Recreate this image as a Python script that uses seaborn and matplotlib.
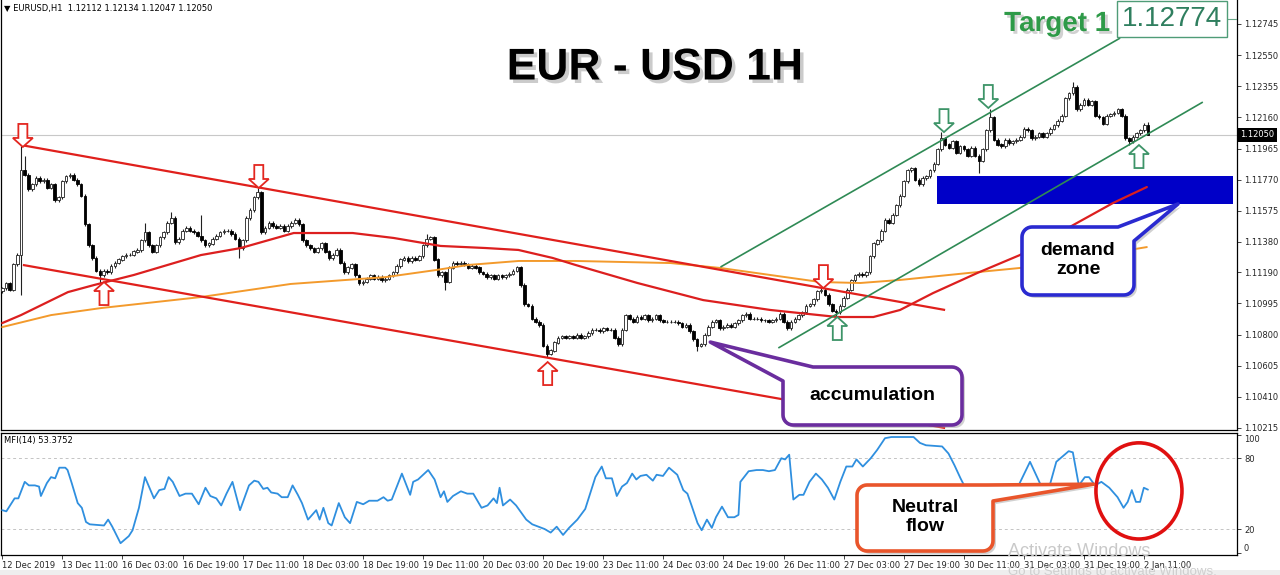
import numpy as np
import matplotlib
matplotlib.use("Agg")
import matplotlib.pyplot as plt
import matplotlib.patheffects as pe
from matplotlib.patches import Polygon, Ellipse, Rectangle
import seaborn as sns

W, H = 1280, 575

# ---------------------------------------------------------------- data
BASE = 1.10000
PIP = 0.0001

time_labels = ["12 Dec 2019", "13 Dec 11:00", "16 Dec 03:00", "16 Dec 19:00",
               "17 Dec 11:00", "18 Dec 03:00", "18 Dec 19:00", "19 Dec 11:00",
               "20 Dec 03:00", "20 Dec 19:00", "23 Dec 11:00", "24 Dec 03:00",
               "24 Dec 19:00", "26 Dec 11:00", "27 Dec 03:00", "27 Dec 19:00",
               "30 Dec 11:00", "31 Dec 03:00", "31 Dec 19:00", "2 Jan 11:00"]
label_step = 16  # one label every 16 hourly bars

# hourly closes in pips above 1.10000
close_pips = [
    109, 112, 108, 124, 130, 183, 180, 171, 174, 178, 176, 177, 172, 174, 164, 166,
    176, 179, 180, 177, 174, 167, 149, 136, 128, 120, 117, 120, 119, 123, 125, 127,
    129, 130, 130, 132, 133, 139, 144, 136, 132, 136, 141, 144, 150, 153, 138, 140,
    145, 147, 145, 144, 142, 139, 136, 137, 140, 142, 144, 145, 145, 143, 140, 134,
    139, 153, 158, 166, 169, 144, 147, 150, 148, 147, 148, 145, 148, 150, 152, 149,
    139, 136, 134, 132, 134, 137, 132, 128, 130, 133, 125, 119, 122, 124, 117, 112,
    113, 115, 117, 115, 116, 114, 115, 117, 119, 123, 127, 128, 126, 128, 127, 129,
    136, 140, 141, 127, 117, 119, 113, 122, 125, 124, 125, 124, 122, 123, 122, 119,
    118, 116, 117, 115, 117, 116, 117, 118, 120, 122, 111, 99, 98, 90, 88, 86,
    73, 68, 70, 75, 78, 79, 78, 79, 78, 80, 78, 79, 81, 83, 83, 82,
    84, 83, 83, 78, 74, 83, 92, 90, 88, 91, 90, 92, 89, 90, 92, 89,
    88, 88, 88, 88, 87, 85, 86, 82, 77, 73, 74, 80, 85, 88, 89, 84,
    85, 86, 85, 87, 89, 92, 93, 90, 90, 90, 89, 89, 88, 89, 90, 93,
    88, 84, 88, 90, 92, 94, 98, 99, 102, 107, 108, 105, 99, 95, 94, 98,
    103, 108, 114, 117, 118, 117, 119, 129, 137, 139, 145, 152, 150, 155, 161, 167,
    176, 183, 184, 177, 174, 178, 179, 183, 187, 196, 203, 199, 197, 201, 194, 198,
    196, 192, 197, 192, 189, 196, 208, 216, 202, 199, 198, 202, 200, 201, 202, 204,
    209, 208, 203, 204, 206, 204, 206, 209, 211, 214, 217, 228, 231, 235, 221, 224,
    227, 224, 226, 217, 216, 212, 217, 218, 219, 221, 217, 203, 201, 204, 206, 208,
    211.2, 205.0,
]
first_open_pips = 107
last_bar_ohlc = [1.12112, 1.12134, 1.12047, 1.12050]
# bars with long shadows: bar -> (high pips, low pips)
long_shadows = {5: (198, 105), 6: (192, None), 26: (None, 112), 38: (150, None),
                45: (157, None), 53: (155, None), 63: (None, 128), 68: (172, None),
                113: (143, None), 118: (None, 108), 145: (None, 66), 185: (None, 70),
                218: (109, None), 222: (None, 91), 250: (207, None), 260: (None, 181),
                263: (221, None), 285: (238, None), 300: (None, 199)}
shadow_pips = 1.0

# moving averages (bar, pips)
ma_red_bar = [0, 5, 17.5, 24.4, 35, 52.9, 63.5, 77.6, 93.3, 104.2, 116.7, 128.7, 137.4,
              146.5, 152.6, 169.1, 186.6, 204.5, 222.3, 231.9, 239.0, 247.8, 259.5,
              270.9, 286.1, 295.7, 304.7]
ma_red_pips = [87.2, 92.2, 106.6, 111.0, 117.3, 129.8, 134.2, 143.6, 143.6, 140.5, 135.5,
               134.2, 133.0, 128.0, 123.6, 112.3, 101.6, 95.4, 91.0, 91.0, 95.4, 106.0,
               118.5, 129.8, 149.9, 162.4, 172.4]
ma_orange_bar = [0, 13.0, 26.3, 52.9, 76.8, 102.1, 115.4, 124.1, 137.5, 152.6, 177.9,
                 191.2, 204.5, 217.8, 228.4, 239.0, 256.9, 270.9, 304.7]
ma_orange_pips = [84.7, 92.2, 96.6, 103.5, 111.7, 116.0, 120.4, 123.6, 126.1, 126.1, 124.8,
                  121.7, 117.3, 112.9, 112.3, 114.2, 118.5, 121.7, 134.8]

# trend lines: ((bar, pips), (bar, pips))
red_upper = ((5.0, 198.7), (251.0, 95.4))
red_lower = ((5.5, 123.6), (251.0, 21.5))
green_upper = ((191.2, 122.3), (297.6, 265.7))
green_lower = ((206.6, 71.6), (319.6, 225.6))

demand_bars = (248.9, 327.6)
demand_pips = (161.8, 179.3)
target_price = 1.12774

# swing markers: (bar, pips, direction)
red_marks = [(5.5, 197.5, "down"), (68.3, 171.8, "down"), (218.6, 109.1, "down"),
             (27.1, 112.9, "up"), (145.2, 62.8, "up")]
green_marks = [(250.7, 206.8, "down"), (262.5, 221.9, "down"),
               (222.3, 91.0, "up"), (302.6, 198.7, "up")]

# MFI(14)
mfi_bar = [0.0, 1.1, 3.3, 4.3, 6.0, 7.1, 8.7, 9.8, 10.3, 11.9, 13.0, 14.1, 15.2, 16.8, 17.4,
           18.5, 20.1, 21.2, 22.3, 23.3, 27.1, 28.2, 29.3, 31.5, 32.6, 33.7, 34.7, 36.4,
           38.0, 39.6, 40.4, 41.8, 43.2, 44.3, 45.4, 47.2, 48.8, 50.5, 52.3, 54.1, 55.4,
           57.0, 58.3, 59.7, 61.3, 63.3, 65.7, 67.1, 68.2, 69.5, 70.6, 71.6, 73.3, 74.4,
           76.0, 77.3, 78.7, 79.8, 81.4, 83.6, 84.5, 85.5, 86.8, 87.7, 89.6, 91.2, 92.6,
           94.4, 96.1, 97.7, 99.9, 101.5, 102.6, 103.7, 106.4, 108.6, 109.4, 110.7, 113.4,
           115.1, 116.7, 117.6, 118.5, 120.0, 122.1, 123.8, 125.4, 127.6, 129.2, 130.8,
           131.7, 132.4, 133.3, 135.2, 136.8, 139.5, 141.1, 144.4, 146.0, 147.6, 149.3,
           150.9, 153.1, 155.2, 157.9, 159.6, 160.7, 162.3, 163.6, 165.0, 166.3, 167.7,
           168.8,
           169.9, 171.5, 173.2, 174.2, 175.9, 177.5, 179.7, 181.3, 182.4, 183.5, 185.1,
           186.2, 187.6, 188.9, 190.0, 191.6, 193.2, 194.9, 196.0, 196.5, 198.7, 200.8,
           202.5, 204.1, 205.7, 207.4, 208.4, 209.5, 210.6, 212.2, 213.3, 214.9, 216.6,
           218.2, 219.8, 221.5, 223.1, 224.7, 226.3, 227.4, 229.1, 231.2, 232.9, 235.0,
           236.7, 239.4, 242.6, 244.3, 245.9, 250.2, 251.9, 253.5, 255.1, 256.7, 264.3,
           266.0, 267.6, 269.8, 273.6, 276.8, 278.5, 280.6, 283.9, 285.0, 286.6, 288.2,
           289.3, 290.9, 292.6, 294.7, 296.9, 298.5, 299.6, 300.7, 301.8, 302.9, 303.9,
           305.0]
mfi_val = [36, 35, 46, 46, 60, 57, 57, 56, 48, 59, 64, 63, 72, 72, 70,
           59, 42, 38, 26, 24, 23, 28, 22, 8, 11, 14, 19, 38,
           64, 52, 46, 53, 54, 64, 60, 48, 50, 50, 41, 55, 48,
           46, 40, 50, 60, 36, 57, 61, 60, 54, 55, 51, 50, 47,
           47, 57, 49, 42, 28, 36, 28, 38, 25, 23, 42, 30, 25,
           43, 41, 44, 44, 47, 44, 45, 67, 49, 60, 62, 70,
           62, 47, 52, 43, 48, 52, 50, 50, 38, 40, 46,
           42, 55, 40, 45, 40, 28, 24, 20, 17, 22, 15,
           21, 28, 37, 64, 73, 63, 63, 48, 56, 59, 67,
           62,
           65, 66, 61, 66, 65, 72, 66, 53, 50, 40, 25,
           19, 28, 21, 30, 39, 30, 30, 32, 60, 69, 70,
           70, 69, 70, 80, 79, 83, 45, 49, 49, 60, 67,
           62, 55, 45, 60, 73, 73, 79, 73, 80, 87, 97,
           98, 98, 98, 93, 91, 90, 84, 74, 63, 53, 53,
           53, 51, 52, 77, 55, 53, 77, 86, 85, 57, 64,
           64, 57, 60, 55, 47, 38, 43, 53, 43, 43, 55,
           53.3752]
mfi_levels = [20, 80]

price_ticks = [1.12745, 1.12550, 1.12355, 1.12160, 1.11965, 1.11770, 1.11575,
               1.11380, 1.11190, 1.10995, 1.10800, 1.10605, 1.10410, 1.10215]
mfi_ticks = [100, 80, 20, 0]

# ---------------------------------------------------------------- style
sns.set_theme(style="white")
plt.rcParams["font.family"] = ["DejaVu Sans"]
plt.rcParams["axes.edgecolor"] = "black"
plt.rcParams["axes.linewidth"] = 0.9

fig = plt.figure(figsize=(W / 100, H / 100), dpi=100)
fig.patch.set_facecolor("white")

ax = fig.add_axes([1 / W, 145 / H, 1236 / W, 430 / H])
ax_mfi = fig.add_axes([1 / W, 20 / H, 1236 / W, 122 / H], sharex=ax)

XLIM = (-0.32, 328.7)
ax.set_xlim(*XLIM)
ax.set_ylim(1.102024, 1.128953)
ax_mfi.set_ylim(-2.0, 101.4)


def p(v):
    return BASE + np.asarray(v, dtype=float) * PIP


# ---------------------------------------------------------------- candles
n = len(close_pips)
idx = np.arange(n)
closes = p(close_pips)
opens = np.concatenate([[p(first_open_pips)], closes[:-1]])
highs = np.maximum(opens, closes) + shadow_pips * PIP
lows = np.minimum(opens, closes) - shadow_pips * PIP
for b, (hi, lo) in long_shadows.items():
    if hi is not None:
        highs[b] = p(hi)
    if lo is not None:
        lows[b] = p(lo)
opens[-1], highs[-1], lows[-1], closes[-1] = last_bar_ohlc

body_lo = np.minimum(opens, closes)
body_h = np.abs(closes - opens) + 0.000004
bull = closes >= opens

ax.vlines(idx, lows, highs, color="#202020", linewidth=0.8, zorder=3)
ax.bar(idx[bull], body_h[bull], bottom=body_lo[bull], width=0.7, color="white",
       edgecolor="#202020", linewidth=0.6, zorder=4)
ax.bar(idx[~bull], body_h[~bull], bottom=body_lo[~bull], width=0.7, color="black",
       edgecolor="black", linewidth=0.6, zorder=4)

# current price line
ax.axhline(closes[-1], color="#c8c8c8", linewidth=0.8, zorder=1)

# demand zone
ax.add_patch(Rectangle((demand_bars[0], p(demand_pips[0])),
                       demand_bars[1] - demand_bars[0],
                       p(demand_pips[1]) - p(demand_pips[0]),
                       facecolor="#0000c8", edgecolor="none", zorder=2))

# moving averages
sns.lineplot(x=ma_orange_bar, y=p(ma_orange_pips), ax=ax, color="#f39a2c",
             linewidth=1.4, zorder=5)
sns.lineplot(x=ma_red_bar, y=p(ma_red_pips), ax=ax, color="#dc1f1f",
             linewidth=1.6, zorder=5)

# channels
for (a, b), col, lw in [(red_upper, "#e0201c", 1.6), (red_lower, "#e0201c", 1.6),
                        (green_upper, "#2f8a55", 1.2), (green_lower, "#2f8a55", 1.2)]:
    ax.plot([a[0], b[0]], [p(a[1]), p(b[1])], color=col, linewidth=lw, zorder=5,
            solid_capstyle="butt")

# target level stub at the price scale
ax.plot([325.8, XLIM[1]], [target_price, target_price], color="#6aa88a",
        linewidth=0.8, zorder=5)

# price scale
ax.yaxis.tick_right()
ax.set_yticks(price_ticks)
ax.set_yticklabels([f"{v:.5f}" for v in price_ticks])
ax.tick_params(axis="y", labelsize=6, length=3, width=0.6, pad=2, direction="out",
               right=True, left=False)
ax.tick_params(axis="x", bottom=False, labelbottom=False)
ax.spines["top"].set_visible(False)
ax.annotate(f"{closes[-1]:.5f}", xy=(1.0, closes[-1]), xycoords=("axes fraction", "data"),
            xytext=(2.5, 0), textcoords="offset points", ha="left", va="center",
            fontsize=6, color="white",
            bbox=dict(boxstyle="square,pad=0.25", facecolor="black", edgecolor="none"),
            annotation_clip=False, zorder=10)
ax.grid(False)

# ---------------------------------------------------------------- MFI
for lv in mfi_levels:
    ax_mfi.axhline(lv, color="#c4c4c4", linewidth=0.7, linestyle=(0, (3, 3)), zorder=1)
sns.lineplot(x=mfi_bar, y=mfi_val, ax=ax_mfi, color="#2f8fdf", linewidth=1.3, zorder=3)
ax_mfi.add_patch(Ellipse((302.6, 52.3), 22.9, 81.5, fill=False, edgecolor="#e01010",
                         linewidth=2.6, zorder=6, clip_on=False))
ax_mfi.yaxis.tick_right()
ax_mfi.set_yticks(mfi_ticks)
ax_mfi.set_yticklabels([str(t) for t in mfi_ticks])
ax_mfi.tick_params(axis="y", labelsize=6, length=3, width=0.6, pad=2, right=True,
                   left=False)
for lab, t in zip(ax_mfi.get_yticklabels(), mfi_ticks):
    if t == 100:
        lab.set_verticalalignment("top")
    elif t == 0:
        lab.set_verticalalignment("bottom")
tick_bars = [i * label_step for i in range(len(time_labels))]
ax_mfi.set_xticks(tick_bars)
ax_mfi.set_xticklabels(time_labels, ha="left")
ax_mfi.tick_params(axis="x", labelsize=6, length=3, width=0.6, pad=1.5, bottom=True)
ax_mfi.set_xlabel("")
ax_mfi.set_ylabel("")
ax.set_xlabel("")
ax.set_ylabel("")
ax_mfi.grid(False)

# ---------------------------------------------------------------- annotations
inv = fig.transFigure.inverted()


def to_fig(x, y):
    return (x / W, 1 - y / H)


def data_px(axis, x, y):
    dx, dy = axis.transData.transform((x, y))
    return dx, H - dy


def add_poly(pts, **kw):
    poly = Polygon([to_fig(x, y) for x, y in pts], closed=True,
                   transform=fig.transFigure, **kw)
    fig.add_artist(poly)
    return poly


def arrow_mark(axis, bar, pips, direction, color):
    tx, ty = data_px(axis, bar, p(pips))
    s = 1 if direction == "down" else -1
    shape = [(0, 0), (-10, -9), (-4.5, -9), (-4.5, -23), (4.5, -23), (4.5, -9), (10, -9)]
    add_poly([(tx + dx, ty + s * dy) for dx, dy in shape], facecolor="white",
             edgecolor=color, linewidth=1.3, zorder=8)


for b, v, d in red_marks:
    arrow_mark(ax, b, v, d, "#e3261f")
for b, v, d in green_marks:
    arrow_mark(ax, b, v, d, "#3d9468")


def callout(L, T, R, B, r, corner, tip, da, db):
    def arc(cx, cy, a0, a1):
        t = np.radians(np.linspace(a0, a1, 9))
        return list(zip(cx + r * np.cos(t), cy + r * np.sin(t)))
    pts = [(L + db, T)] if corner == "tl" else [(L + r, T)]
    if corner == "tr":
        pts += [(R - da, T), tip, (R, T + db)]
    else:
        pts += arc(R - r, T + r, -90, 0)
    pts += arc(R - r, B - r, 0, 90)
    pts += arc(L + r, B - r, 90, 180)
    if corner == "tl":
        pts += [(L, T + da), tip]
    else:
        pts += arc(L + r, T + r, 180, 270)
    return pts


def draw_callout(pts, color, text, cx, cy):
    add_poly([(x + 3, y + 3) for x, y in pts], facecolor="#9a9a9a", edgecolor="none",
             alpha=0.45, zorder=8)
    add_poly(pts, facecolor="white", edgecolor=color, linewidth=2.6,
             joinstyle="round", zorder=9)
    fig.text(*to_fig(cx, cy), text, ha="center", va="center", fontsize=14,
             fontweight="bold", family="Liberation Sans", color="black",
             linespacing=1.15, zorder=10)


acc_tip = data_px(ax, 188.5, p(75.3))
draw_callout(callout(783, 367, 962, 425, 10, "tl", acc_tip, 14, 30), "#6a2d9e",
             "accumulation", 872, 396)
dem_tip = data_px(ax, 313.0, p(demand_pips[0]))
draw_callout(callout(1022, 227, 1134, 295, 10, "tr", dem_tip, 16, 14), "#2a2ad0",
             "demand\nzone", 1078, 260)
neu_tip = data_px(ax_mfi, 290.5, 58)
draw_callout(callout(857, 485, 993, 551, 10, "tr", neu_tip, 6, 16), "#e9552b",
             "Neutral\nflow", 925, 517)

# titles and headers
fig.text(*to_fig(655, 68), "EUR - USD 1H", ha="center", va="center", fontsize=32,
         fontweight="bold", family="Liberation Sans", color="black", zorder=10,
         path_effects=[pe.withSimplePatchShadow(offset=(2.5, -2.5), shadow_rgbFace="0.55",
                                                alpha=0.45)])
fig.text(*to_fig(1057, 24), "Target 1", ha="center", va="center", fontsize=20,
         fontweight="bold", family="Liberation Sans", color="#2e9a48", zorder=10,
         path_effects=[pe.withSimplePatchShadow(offset=(2, -2), shadow_rgbFace="0.6",
                                                alpha=0.45)])
tp_y = H - ax.transData.transform((0, target_price))[1]
fig.text(*to_fig(1172, tp_y), f"{target_price:.5f}", ha="center", va="center",
         fontsize=20, family="Liberation Sans", color="#2f7f5f", zorder=10,
         bbox=dict(boxstyle="square,pad=0.18", facecolor="white", edgecolor="#4f9c77",
                   linewidth=1.0))

fig.text(*to_fig(4, 8), "\u25bc EURUSD,H1  " + " ".join(f"{v:.5f}" for v in last_bar_ohlc),
         ha="left", va="center", fontsize=6, color="black", zorder=10)
fig.text(*to_fig(4, 441), f"MFI(14) {mfi_val[-1]:.4f}", ha="left", va="center",
         fontsize=6, color="black", zorder=10)

# desktop watermark
fig.text(*to_fig(1008, 552), "Activate Windows", ha="left", va="center", fontsize=13,
         family="Liberation Sans", color="#c9c9c9", zorder=11)
fig.text(*to_fig(1008, 572), "Go to Settings to activate Windows.", ha="left",
         va="center", fontsize=9.5, family="Liberation Sans", color="#cfcfcf", zorder=11)

fig.add_artist(Rectangle((0, 0), 1, 5 / H, transform=fig.transFigure,
                         facecolor="#eeeeee", edgecolor="none", zorder=-1))

fig.savefig("out.png", dpi=100, facecolor="white")
